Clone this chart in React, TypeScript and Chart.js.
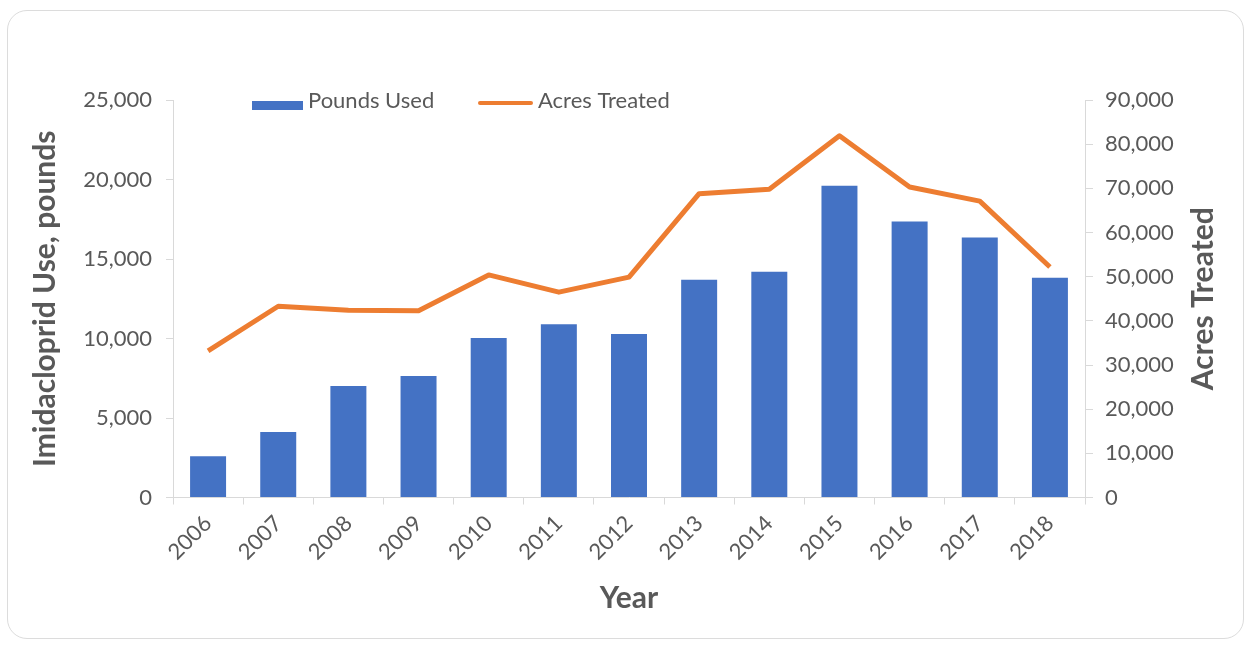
import React, { useEffect, useRef } from "react";
import { Chart, registerables } from "chart.js";

Chart.register(...registerables);

const years = ["2006", "2007", "2008", "2009", "2010", "2011", "2012", "2013", "2014", "2015", "2016", "2017", "2018"];
const poundsUsed = [2600, 4120, 7010, 7640, 10030, 10900, 10280, 13690, 14200, 19600, 17360, 16350, 13820];
const acresTreated = [33200, 43300, 42400, 42300, 50400, 46500, 49900, 68800, 69800, 81900, 70300, 67100, 52200];

const BLUE = "#4472C4";
const ORANGE = "#ED7D31";
const TEXT = "#595959";
const AXIS = "#d9d9d9";
const FONT = "Lato, 'Noto Sans', sans-serif";
const RIGHT_TITLE = "Acres Treated";

const fmt = (v: number | string) => Number(v).toLocaleString("en-US");

const legendPlugin = {
  id: "customLegend",
  afterDraw(chart: any) {
    const ctx = chart.ctx;
    ctx.save();
    ctx.fillStyle = BLUE;
    ctx.fillRect(252, 101, 51, 9);
    ctx.font = `22px ${FONT}`;
    ctx.fillStyle = TEXT;
    ctx.textBaseline = "middle";
    ctx.textAlign = "left";
    ctx.fillText("Pounds Used", 308, 101);
    ctx.strokeStyle = ORANGE;
    ctx.lineWidth = 4;
    ctx.lineCap = "round";
    ctx.beginPath();
    ctx.moveTo(480, 103);
    ctx.lineTo(531, 103);
    ctx.stroke();
    ctx.fillText("Acres Treated", 538, 101);

    // right axis title, reading bottom-to-top
    const s = chart.scales.y1;
    const cy = (chart.chartArea.top + chart.chartArea.bottom) / 2;
    ctx.translate(s.right - 28, cy);
    ctx.rotate(-Math.PI / 2);
    ctx.font = `bold 30px ${FONT}`;
    ctx.textAlign = "center";
    ctx.textBaseline = "middle";
    ctx.fillText(RIGHT_TITLE, 0, 0);
    ctx.restore();
  },
};

export default function App() {
  const ref = useRef<HTMLCanvasElement | null>(null);
  useEffect(() => {
    if (!ref.current) return;
    const chart = new Chart(ref.current, {
      type: "bar",
      data: {
        labels: years,
        datasets: [
          {
            type: "line",
            label: "Acres Treated",
            data: acresTreated,
            yAxisID: "y1",
            borderColor: ORANGE,
            backgroundColor: ORANGE,
            borderWidth: 5,
            pointRadius: 0,
            tension: 0,
            borderJoinStyle: "round",
            order: 0,
          } as any,
          {
            type: "bar",
            label: "Pounds Used",
            data: poundsUsed,
            yAxisID: "y",
            backgroundColor: BLUE,
            barPercentage: 0.513,
            categoryPercentage: 1,
            order: 1,
          } as any,
        ],
      },
      options: {
        animation: false,
        responsive: true,
        maintainAspectRatio: false,
        layout: { padding: { left: 20, right: 20, top: 100, bottom: 30 } },
        plugins: { legend: { display: false }, tooltip: { enabled: false } },
        scales: {
          x: {
            type: "category",
            offset: true,
            grid: { offset: true, drawOnChartArea: false, drawTicks: true, tickLength: 7, color: AXIS },
            border: { color: AXIS, width: 1 },
            ticks: { minRotation: 45, maxRotation: 45, color: TEXT, font: { family: FONT, size: 22 }, padding: 6 },
            title: { display: true, text: "Year", color: TEXT, font: { family: FONT, size: 30, weight: "bold" }, padding: { top: 0, bottom: 0 } },
            afterFit: (s: any) => { s.height = 118.5; },
          },
          y: {
            type: "linear",
            position: "left",
            min: 0,
            max: 25000,
            ticks: { stepSize: 5000, color: TEXT, font: { family: FONT, size: 22 }, padding: 14, callback: (v: any) => fmt(v) },
            grid: { drawOnChartArea: false, drawTicks: true, tickLength: 7, color: AXIS },
            border: { color: AXIS, width: 1 },
            title: { display: true, text: "Imidacloprid Use, pounds", color: TEXT, font: { family: FONT, size: 30, weight: "bold" }, padding: { top: 7, bottom: 0 } },
            afterFit: (s: any) => { s.width = 153; },
          },
          y1: {
            type: "linear",
            position: "right",
            min: 0,
            max: 90000,
            ticks: { stepSize: 10000, color: TEXT, font: { family: FONT, size: 22 }, padding: 12, callback: (v: any) => fmt(v) },
            grid: { drawOnChartArea: false, drawTicks: true, tickLength: 8, color: AXIS },
            border: { color: AXIS, width: 1 },
            title: { display: false },
            afterFit: (s: any) => { s.width = 146; },
          },
        },
      } as any,
      plugins: [legendPlugin],
    });
    return () => chart.destroy();
  }, []);

  return (
    <div style={{ position: "fixed", left: 0, top: 0, width: 1251, height: 646, background: "#fff" }}>
      <div
        style={{
          position: "absolute",
          left: 7,
          top: 10,
          width: 1237,
          height: 629,
          border: "1px solid #dcdcdc",
          borderRadius: 20,
          boxSizing: "border-box",
        }}
      />
      <canvas ref={ref} style={{ position: "absolute", left: 0, top: 0 }} />
    </div>
  );
}
